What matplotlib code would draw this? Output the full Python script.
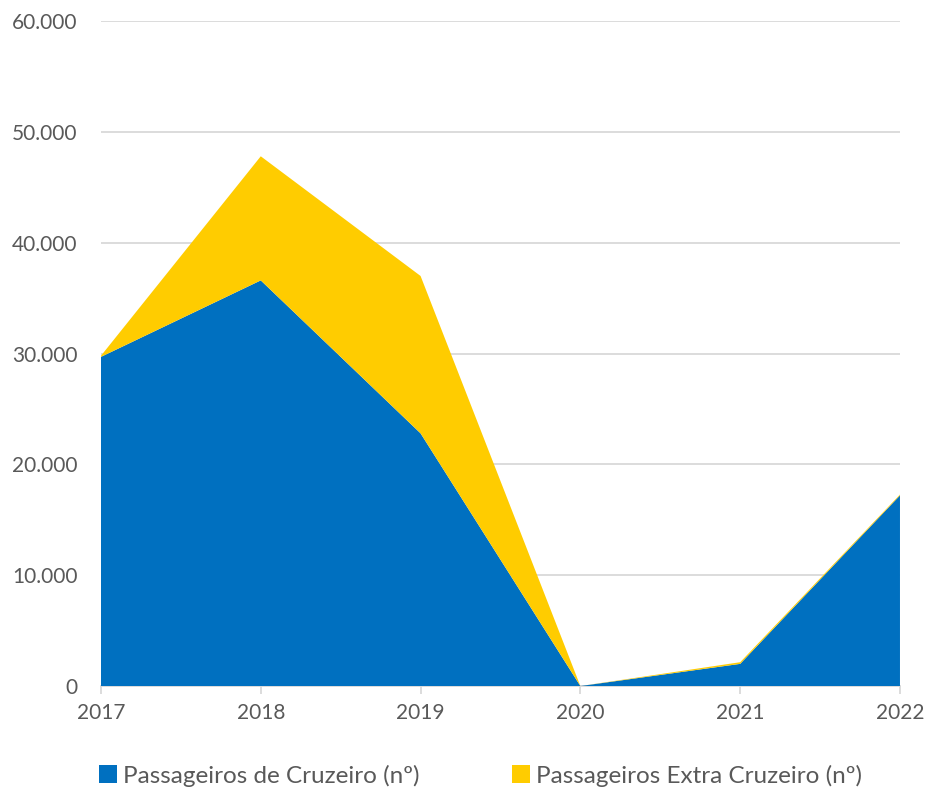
import matplotlib.pyplot as plt
from matplotlib.ticker import FuncFormatter

anos = [2017, 2018, 2019, 2020, 2021, 2022]
cruzeiro = [29700, 36600, 22800, 0, 2000, 17200]
extra_cruzeiro = [100, 11200, 14200, 0, 150, 80]

azul = '#0070C0'
amarelo = '#FFCC00'
cinza = '#595959'

plt.rcParams['font.family'] = ['Lato', 'DejaVu Sans']

fig = plt.figure(figsize=(9.28, 7.89), dpi=100)
ax = fig.add_axes([0.1088, 0.1305, 0.861, 0.8428])

ax.stackplot(anos, cruzeiro, extra_cruzeiro, colors=[azul, amarelo],
             labels=['Passageiros de Cruzeiro (nº)', 'Passageiros Extra Cruzeiro (nº)'],
             linewidth=0, zorder=3)

ax.set_xlim(2017, 2022)
ax.set_ylim(0, 60000)
ax.set_yticks(range(0, 60001, 10000))
ax.yaxis.set_major_formatter(FuncFormatter(lambda v, p: '0' if v == 0 else f'{int(v):,}'.replace(',', '.')))
ax.set_xticks(anos)

ax.grid(axis='y', color='#D9D9D9', linewidth=1.3, zorder=0)
for s in ['top', 'right', 'left']:
    ax.spines[s].set_visible(False)
ax.spines['bottom'].set_color('#D9D9D9')
ax.spines['bottom'].set_linewidth(1.3)
ax.tick_params(axis='y', length=0, pad=17, labelsize=15, labelcolor=cinza)
ax.tick_params(axis='x', length=6, width=1.3, color='#D9D9D9', pad=6,
               labelsize=15, labelcolor=cinza)

ax.legend(loc='upper center', bbox_to_anchor=(0.475, -0.085), ncol=2, frameon=False,
          fontsize=17.5, labelcolor=cinza, handlelength=0.75, handleheight=0.75,
          handletextpad=0.25, columnspacing=3.8)

fig.savefig('out.png', dpi=100)
